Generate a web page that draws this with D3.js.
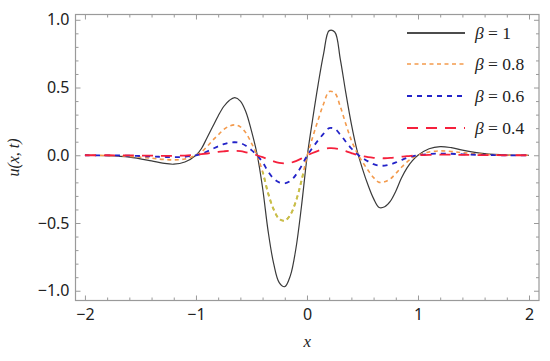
<!DOCTYPE html>
<html>
<head>
<meta charset="utf-8">
<script src="https://cdn.jsdelivr.net/npm/d3@7"></script>
<style>
  body { margin: 0; background: #fff; }
  svg { display: block; }
</style>
</head>
<body>
<div id="chart"></div>
<script>
// sample positions along x (shared by every curve)
const xs = [-2, -1.8, -1.6, -1.4, -1.3, -1.2, -1.1, -1.0, -0.95, -0.9, -0.85, -0.8, -0.75, -0.7, -0.65, -0.6, -0.55, -0.5, -0.45, -0.4, -0.35, -0.3, -0.25, -0.2, -0.15, -0.1, -0.05, 0, 0.05, 0.1, 0.15, 0.2, 0.25, 0.3, 0.35, 0.4, 0.45, 0.5, 0.55, 0.6, 0.65, 0.7, 0.75, 0.8, 0.85, 0.9, 0.95, 1.0, 1.1, 1.2, 1.3, 1.4, 1.6, 1.8, 2.0];

// u(x,t) for each beta
const beta10 = [0, -0.003, -0.014, -0.042, -0.058, -0.066, -0.05, 0.0, 0.05, 0.13, 0.21, 0.29, 0.36, 0.405, 0.425, 0.40, 0.32, 0.18, 0.01, -0.24, -0.56, -0.80, -0.94, -0.97, -0.89, -0.69, -0.38, -0.02, 0.26, 0.52, 0.75, 0.92, 0.91, 0.71, 0.46, 0.23, 0.04, -0.1, -0.22, -0.32, -0.385, -0.38, -0.34, -0.265, -0.17, -0.095, -0.04, 0.0, 0.048, 0.064, 0.056, 0.038, 0.012, 0.002, 0];
const beta08 = [0, -0.002, -0.008, -0.022, -0.03, -0.034, -0.027, 0.0, 0.025, 0.065, 0.11, 0.15, 0.19, 0.215, 0.224, 0.21, 0.165, 0.09, 0.0, -0.12, -0.28, -0.40, -0.47, -0.483, -0.44, -0.34, -0.19, -0.01, 0.13, 0.26, 0.38, 0.47, 0.46, 0.36, 0.23, 0.11, 0.02, -0.05, -0.11, -0.165, -0.2, -0.195, -0.175, -0.135, -0.09, -0.05, -0.02, 0.0, 0.024, 0.032, 0.028, 0.019, 0.006, 0.001, 0];
const beta06 = [0, -0.001, -0.003, -0.009, -0.012, -0.014, -0.011, 0.0, 0.01, 0.028, 0.047, 0.066, 0.082, 0.093, 0.096, 0.09, 0.07, 0.038, 0.0, -0.05, -0.12, -0.172, -0.2, -0.207, -0.19, -0.145, -0.08, -0.005, 0.055, 0.11, 0.16, 0.2, 0.195, 0.153, 0.1, 0.05, 0.01, -0.02, -0.045, -0.066, -0.077, -0.076, -0.068, -0.053, -0.036, -0.02, -0.008, 0.0, 0.009, 0.012, 0.011, 0.007, 0.002, 0.0, 0];
const beta04 = [0, 0, -0.001, -0.003, -0.004, -0.004, -0.002, 0.004, 0.008, 0.013, 0.019, 0.025, 0.029, 0.032, 0.032, 0.03, 0.022, 0.012, 0.0, -0.014, -0.03, -0.045, -0.056, -0.06, -0.056, -0.043, -0.024, -0.002, 0.017, 0.033, 0.045, 0.052, 0.051, 0.043, 0.03, 0.016, 0.003, -0.007, -0.014, -0.019, -0.022, -0.022, -0.02, -0.016, -0.011, -0.007, -0.003, 0.0, 0.003, 0.004, 0.004, 0.003, 0.001, 0, 0];

const seriesLabels = ["\u03b2 = 1", "\u03b2 = 0.8", "\u03b2 = 0.6", "\u03b2 = 0.4"];
const xTicks = [-2, -1, 0, 1, 2];
const yTicks = [-1, -0.5, 0, 0.5, 1];

const width = 550, height = 361;
const frame = { left: 75.5, right: 539, top: 14.5, bottom: 300.5 };

const svg = d3.select("#chart").append("svg")
    .attr("width", width)
    .attr("height", height);

const x = d3.scaleLinear().domain([-2.085, 2.09]).range([frame.left, frame.right]);
const y = d3.scaleLinear().domain([-1.072, 1.039]).range([frame.bottom, frame.top]);

// minor ticks
const xMinor = d3.range(-20, 21, 2).map(d => d / 10).filter(d => !xTicks.includes(d));
const yMinor = d3.range(-10, 11, 1).map(d => d / 10).filter(d => !yTicks.includes(d));

const frameColor = "#9a9a9a";
const tickFont = "'Noto Sans', sans-serif";

// axes (ticks pointing inward, like a Mathematica frame)
function styleAxis(g) {
    g.select(".domain").remove();
    g.selectAll("line").attr("stroke", frameColor);
    g.selectAll("text").attr("fill", "#222").style("font-family", tickFont).style("font-size", "16px");
}

svg.append("g").attr("transform", `translate(0,${frame.bottom})`)
    .call(d3.axisBottom(x).tickValues(xTicks).tickSize(-5).tickPadding(8).tickFormat(d3.format("d")))
    .call(styleAxis);
svg.append("g").attr("transform", `translate(0,${frame.bottom})`)
    .call(d3.axisBottom(x).tickValues(xMinor).tickSize(-3).tickFormat(""))
    .call(styleAxis);
svg.append("g").attr("transform", `translate(0,${frame.top})`)
    .call(d3.axisTop(x).tickValues(xTicks).tickSize(-5).tickFormat(""))
    .call(styleAxis);
svg.append("g").attr("transform", `translate(0,${frame.top})`)
    .call(d3.axisTop(x).tickValues(xMinor).tickSize(-3).tickFormat(""))
    .call(styleAxis);

svg.append("g").attr("transform", `translate(${frame.left},0)`)
    .call(d3.axisLeft(y).tickValues(yTicks).tickSize(-5).tickPadding(6).tickFormat(d3.format(".1f")))
    .call(styleAxis);
svg.append("g").attr("transform", `translate(${frame.left},0)`)
    .call(d3.axisLeft(y).tickValues(yMinor).tickSize(-3).tickFormat(""))
    .call(styleAxis);
svg.append("g").attr("transform", `translate(${frame.right},0)`)
    .call(d3.axisRight(y).tickValues(yTicks).tickSize(-5).tickFormat(""))
    .call(styleAxis);
svg.append("g").attr("transform", `translate(${frame.right},0)`)
    .call(d3.axisRight(y).tickValues(yMinor).tickSize(-3).tickFormat(""))
    .call(styleAxis);

// frame
svg.append("rect")
    .attr("x", frame.left).attr("y", frame.top)
    .attr("width", frame.right - frame.left)
    .attr("height", frame.bottom - frame.top)
    .attr("fill", "none")
    .attr("stroke", frameColor)
    .attr("stroke-width", 1.2);

// curves
const series = [
    { values: beta10, color: "#3a3a3a", dash: null, width: 1.2, legendColor: "#111" },
    { values: beta08, color: "#f39a4c", dash: "4,3.5", width: 1.6, legendColor: "#f39a4c" },
    { values: beta06, color: "#2323c8", dash: "5,5", width: 1.8, legendColor: "#2323c8" },
    { values: beta04, color: "#f5203c", dash: "11,8", width: 1.8, legendColor: "#f5203c" }
];

const line = d3.line()
    .x(d => x(d[0]))
    .y(d => y(d[1]))
    .curve(d3.curveCatmullRom.alpha(0.5));

const plot = svg.append("g");

// the orange curve turns olive in the deep central dip
const defs = svg.append("defs");
defs.append("clipPath").attr("id", "dipClip")
    .append("rect")
    .attr("x", x(-0.45)).attr("y", y(-0.12))
    .attr("width", x(0) - x(-0.45))
    .attr("height", y(-1) - y(-0.12));

series.forEach((s, i) => {
    const pts = xs.map((xv, j) => [xv, s.values[j]]);
    plot.append("path")
        .attr("d", line(pts))
        .attr("fill", "none")
        .attr("stroke", s.color)
        .attr("stroke-width", s.width)
        .attr("stroke-dasharray", s.dash);
    if (i === 1) {
        plot.append("path")
            .attr("d", line(pts))
            .attr("fill", "none")
            .attr("stroke", "#c4c24a")
            .attr("stroke-width", s.width + 0.4)
            .attr("stroke-dasharray", s.dash)
            .attr("clip-path", "url(#dipClip)");
    }
});

// legend
const legend = svg.append("g");
const legendY = [33, 64, 96, 128];
series.forEach((s, i) => {
    legend.append("line")
        .attr("x1", 407).attr("x2", 465)
        .attr("y1", legendY[i]).attr("y2", legendY[i])
        .attr("stroke", s.legendColor)
        .attr("stroke-width", i === 0 ? 1.6 : s.width)
        .attr("stroke-dasharray", s.dash);
    const t = legend.append("text")
        .attr("x", 475).attr("y", legendY[i] + 5.5)
        .style("font-family", "'Liberation Serif', serif")
        .style("font-size", "17.5px")
        .attr("fill", "#222");
    t.append("tspan").style("font-style", "italic").text("\u03b2");
    t.append("tspan").text(seriesLabels[i].slice(1));
});

// axis titles
svg.append("text")
    .attr("x", (frame.left + frame.right) / 2)
    .attr("y", 347)
    .attr("text-anchor", "middle")
    .style("font-family", "'Liberation Serif', serif")
    .style("font-style", "italic")
    .style("font-size", "17px")
    .attr("fill", "#222")
    .text("x");

svg.append("text")
    .attr("transform", `translate(19,${(frame.top + frame.bottom) / 2}) rotate(-90)`)
    .attr("text-anchor", "middle")
    .style("font-family", "'Liberation Serif', serif")
    .style("font-style", "italic")
    .style("font-size", "16px")
    .attr("fill", "#222")
    .text("u(x, t)");
</script>
</body>
</html>
